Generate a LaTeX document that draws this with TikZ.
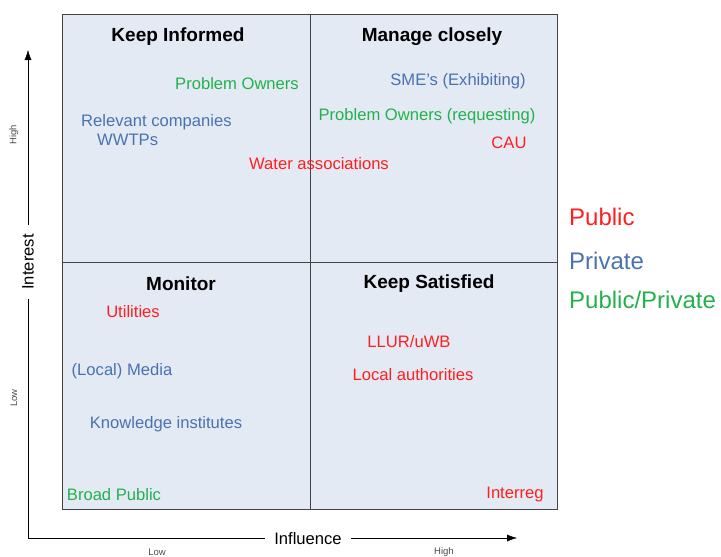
\documentclass[tikz,border=0pt]{standalone}
\usepackage{fontspec}
\setmainfont{Liberation Sans}
\usetikzlibrary{arrows.meta}
\usetikzlibrary{positioning}
\definecolor{pubred}{HTML}{FF1F1F}
\definecolor{privblue}{HTML}{4A72B0}
\definecolor{mixgreen}{HTML}{22B14C}
\definecolor{quadfill}{HTML}{E3EAF4}
\definecolor{quadline}{HTML}{444444}
\begin{document}
\begin{tikzpicture}[x=1pt,y=-1pt,every node/.style={inner sep=0pt,font=\fontsize{16.6}{19}\selectfont},
  pub/.style={text=pubred},priv/.style={text=privblue},mix/.style={text=mixgreen},
  quad/.style={font=\bfseries\fontsize{19}{22}\selectfont},
  tick/.style={text=black!70,font=\fontsize{9.5}{11}\selectfont},
  legend/.style={anchor=west,font=\fontsize{24}{27}\selectfont}]
\useasboundingbox (0,0) rectangle (721,557);
\fill[quadfill] (62,14) rectangle (557,509);
\draw[quadline,line width=1pt] (62,14) rectangle (557,509);
\draw[quadline,line width=1pt] (310,14) -- (310,509);
\draw[quadline,line width=1pt] (62,262) -- (557,262);
  \node[quad] (ki) at (178,36.5) {Keep Informed};
  \node[quad] (mc) at (432,36.5) {Manage closely};
  \node[quad] (mo) at (181,283.5) {Monitor};
  \node[quad] (ks) at (429,283.5) {Keep Satisfied};
  \node[mix] (po) at (237,83.5) {Problem Owners};
  \node[priv] (sme) at (458,81.5) {SME’s (Exhibiting)};
  \node[priv,anchor=west] (rc) at (81,122.5) {Relevant companies};
  \node[priv,anchor=west] (ww) at (97,139.5) {WWTPs};
  \node[mix] (por) at (427,116.5) {Problem Owners (requesting)};
  \node[pub] (cau) at (509,142.5) {CAU};
  \node[pub] (wa) at (319,163.5) {Water associations};
  \node[pub] (ut) at (133,311.5) {Utilities};
  \node[pub] (llur) at (409,341.5) {LLUR/uWB};
  \node[priv] (med) at (122,371.5) {(Local) Media};
  \node[pub] (la) at (413,374.5) {Local authorities};
  \node[priv] (kn) at (166,424.5) {Knowledge institutes};
  \node[mix] (bp) at (114,494.5) {Broad Public};
  \node[pub] (ir) at (515,494.5) {Interreg};
  \node[legend,pub] (lpub) at (569,216.5) {Public};
  \node[legend,priv] (lpriv) at (569,260.5) {Private};
  \node[legend,mix] (lmix) at (569,299.5) {Public/Private};
\coordinate (o) at (28,538);
\coordinate (ytip) at (28,50);
\coordinate (xtip) at (517,538);
  \node[rotate=90,inner xsep=9pt] (int) at (28,262) {Interest};
  \node[inner xsep=9pt] (inf) at (308,538.5) {Influence};
  \node[tick,rotate=90] (ylo) at (14,398) {Low};
  \node[tick,rotate=90] (yhi) at (14,135) {High};
  \node[tick] (xlo) at (157,552) {Low};
  \node[tick] (xhi) at (444,552) {High};
\draw (o) -- (int.west);
\draw[-{Latex[length=10pt,width=7pt]}] (int.east) -- (ytip);
\draw (o) -- (inf.west |- o);
\draw[-{Latex[length=10pt,width=7pt]}] (inf.east |- o) -- (xtip);
\end{tikzpicture}
\end{document}
